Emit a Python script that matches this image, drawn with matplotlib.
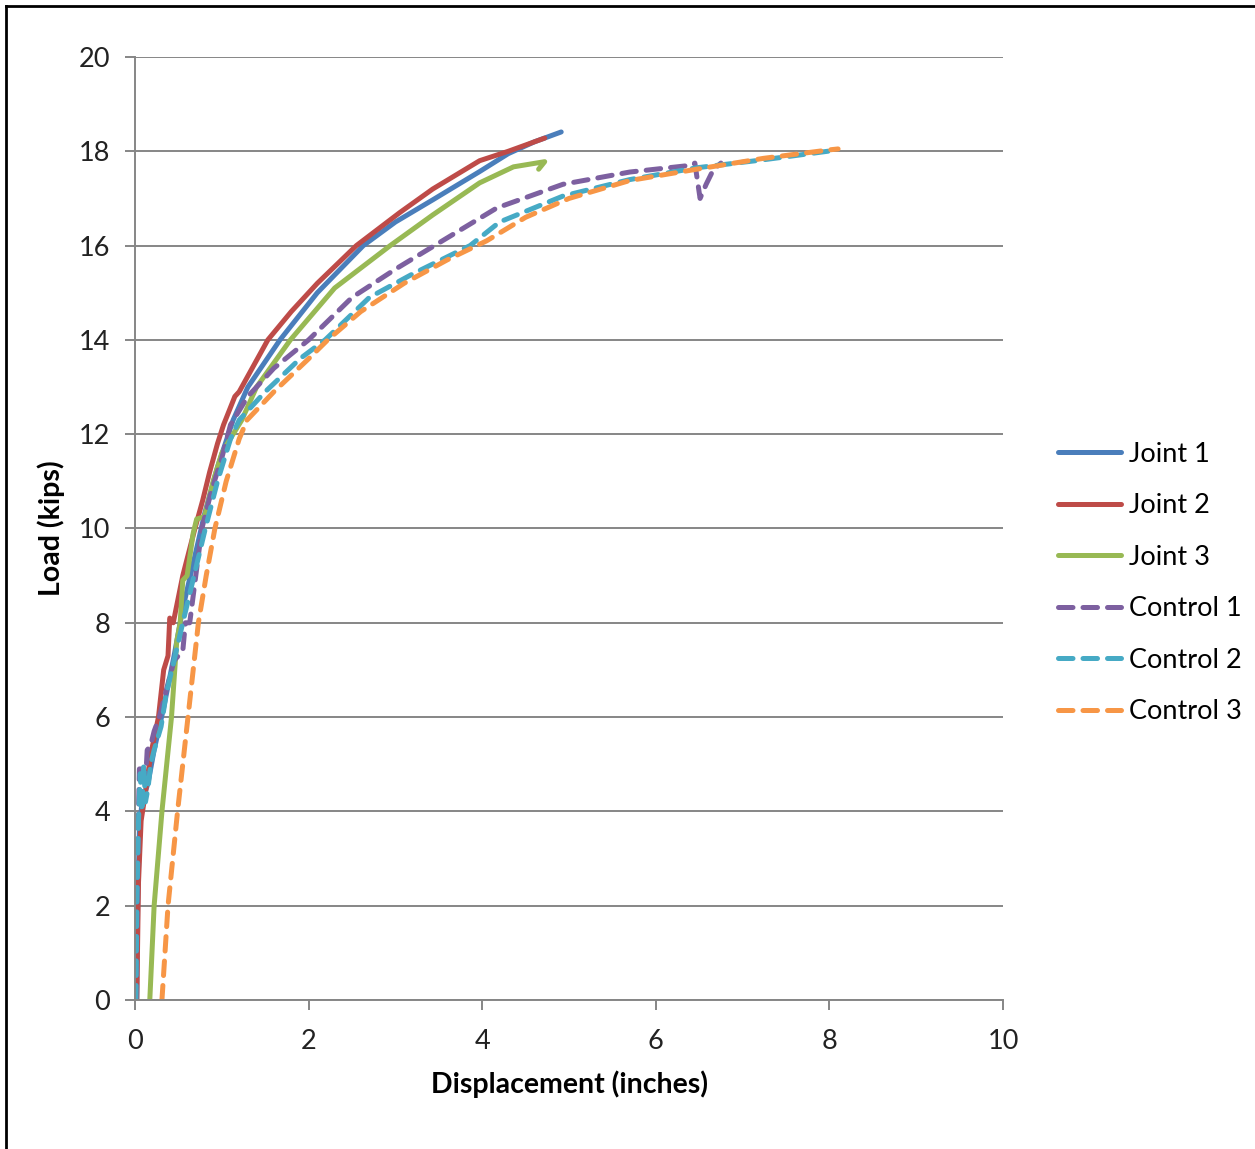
import matplotlib.pyplot as plt
from matplotlib.lines import Line2D

# load-displacement readings (inches, kips)
joint1_x = [0.02, 0.03, 0.05, 0.08, 0.15, 0.22, 0.33, 0.45, 0.55, 0.70, 0.80, 0.95, 1.13, 1.30,
            1.67, 2.10, 2.63, 3.00, 3.43, 3.97, 4.30, 4.60, 4.91]
joint1_y = [0.0, 2.0, 3.6, 4.2, 4.6, 5.3, 6.2, 7.3, 8.3, 9.5, 10.3, 11.3, 12.3, 13.0,
            14.0, 15.0, 16.0, 16.5, 16.97, 17.57, 17.95, 18.2, 18.41]

joint2_x = [0.02, 0.04, 0.07, 0.12, 0.18, 0.27, 0.33, 0.38, 0.40, 0.44, 0.55, 0.69, 0.78, 0.86,
            0.95, 1.02, 1.15, 1.20, 1.35, 1.53, 1.80, 2.10, 2.55, 3.05, 3.43, 3.97, 4.30, 4.72]
joint2_y = [0.0, 2.5, 3.8, 4.4, 5.2, 6.0, 7.0, 7.3, 8.1, 8.0, 9.0, 10.0, 10.6, 11.2,
            11.8, 12.2, 12.8, 12.9, 13.4, 14.0, 14.6, 15.2, 16.0, 16.7, 17.2, 17.8, 18.0, 18.28]

joint3_x = [0.17, 0.22, 0.31, 0.42, 0.48, 0.52, 0.55, 0.60, 0.67, 0.71, 0.80, 0.90, 1.00, 1.13,
            1.23, 1.40, 1.79, 2.30, 2.94, 3.43, 3.97, 4.36, 4.72, 4.65]
joint3_y = [0.0, 2.0, 4.0, 6.0, 7.6, 8.0, 8.9, 9.0, 9.9, 10.2, 10.25, 11.0, 11.6, 12.0,
            12.3, 13.0, 14.0, 15.1, 16.0, 16.65, 17.33, 17.67, 17.78, 17.62]

control1_x = [0.01, 0.02, 0.03, 0.04, 0.05, 0.10, 0.12, 0.14, 0.18, 0.22, 0.28, 0.35, 0.45, 0.55,
              0.58, 0.63, 0.70, 0.77, 0.88, 1.00, 1.10, 1.30, 1.60, 2.00, 2.50, 3.00, 3.45, 4.17,
              4.93, 5.70, 6.39, 6.45, 6.51, 6.58, 6.66, 6.75]
control1_y = [0.0, 1.5, 3.0, 4.0, 4.9, 4.9, 4.6, 5.3, 5.4, 5.7, 6.0, 6.5, 7.2, 7.4,
              8.0, 8.0, 9.0, 10.0, 10.8, 11.5, 12.2, 12.8, 13.4, 14.0, 14.9, 15.5, 16.0, 16.8,
              17.3, 17.56, 17.7, 17.75, 17.0, 17.3, 17.6, 17.75]

control2_x = [0.01, 0.02, 0.04, 0.06, 0.08, 0.10, 0.12, 0.15, 0.18, 0.22, 0.30, 0.36, 0.45, 0.55,
              0.68, 0.81, 0.95, 1.10, 1.20, 1.50, 1.90, 2.19, 2.70, 3.20, 3.86, 4.20, 4.93, 5.70,
              6.47, 7.24, 8.06]
control2_y = [0.0, 2.0, 3.8, 4.8, 4.0, 5.0, 4.2, 4.5, 5.0, 5.3, 5.8, 6.5, 7.2, 8.0,
              9.0, 10.0, 11.0, 11.9, 12.3, 12.9, 13.6, 14.0, 14.9, 15.4, 16.0, 16.5, 17.05, 17.4,
              17.65, 17.82, 18.02]

control3_x = [0.31, 0.38, 0.49, 0.61, 0.73, 0.82, 0.92, 1.05, 1.20, 1.29, 1.60, 2.00, 2.22, 2.60,
              3.10, 3.60, 4.05, 4.50, 5.00, 5.70, 6.47, 7.24, 8.00, 8.10]
control3_y = [0.0, 2.0, 4.0, 6.0, 8.0, 9.0, 10.0, 11.0, 11.9, 12.3, 12.9, 13.6, 14.0, 14.6,
              15.2, 15.7, 16.1, 16.6, 17.0, 17.38, 17.62, 17.85, 18.03, 18.05]

series_names = ["Joint 1", "Joint 2", "Joint 3", "Control 1", "Control 2", "Control 3"]
colors = ["#4A7EBB", "#BE4B48", "#98B954", "#7D60A0", "#46AAC5", "#F79646"]

plt.rcParams['font.family'] = ['Lato', 'DejaVu Sans']

fig = plt.figure(figsize=(12.55, 11.49), dpi=100)
ax = fig.add_axes([0.1076, 0.1297, 0.6916, 0.8207])

data = [(joint1_x, joint1_y), (joint2_x, joint2_y), (joint3_x, joint3_y),
        (control1_x, control1_y), (control2_x, control2_y), (control3_x, control3_y)]

handles = []
for i, (xs, ys) in enumerate(data):
    if i < 3:
        ln, = ax.plot(xs, ys, color=colors[i], lw=3.6, solid_capstyle='round',
                      solid_joinstyle='round', label=series_names[i])
    else:
        ln, = ax.plot(xs, ys, color=colors[i], lw=3.6, dashes=(2.9, 2.0),
                      dash_capstyle='round', label=series_names[i])
    handles.append(ln)

ax.set_xlim(0, 10)
ax.set_ylim(0, 20)
ax.set_xticks(range(0, 11, 2))
ax.set_yticks(range(0, 21, 2))
ax.grid(axis='y', color='#868686', lw=1.4)
ax.set_axisbelow(True)
for s in ['top', 'right']:
    ax.spines[s].set_visible(False)
for s in ['left', 'bottom']:
    ax.spines[s].set_color('#868686')
    ax.spines[s].set_linewidth(1.4)
ax.tick_params(axis='both', length=7, width=1.4, color='#868686', labelsize=19.5,
               labelcolor='#222222')
ax.tick_params(axis='y', pad=11)
ax.tick_params(axis='x', pad=14)

ax.set_xlabel("Displacement (inches)", fontsize=20.5, fontweight='bold', labelpad=12)
ax.set_ylabel("Load (kips)", fontsize=20.5, fontweight='bold', labelpad=10)

fig.legend(handles=handles, loc='center left', bbox_to_anchor=(0.824, 0.4925),
           frameon=False, fontsize=19.5, handlelength=2.3, handletextpad=0.3,
           labelspacing=0.98)

# outer chart frame (only the left and top edges fall inside the image)
fig.add_artist(Line2D([0.005, 0.005], [0, 0.995], transform=fig.transFigure, color='black', lw=2))
fig.add_artist(Line2D([0.005, 1], [0.995, 0.995], transform=fig.transFigure, color='black', lw=2))

fig.savefig("out.png", dpi=100)
